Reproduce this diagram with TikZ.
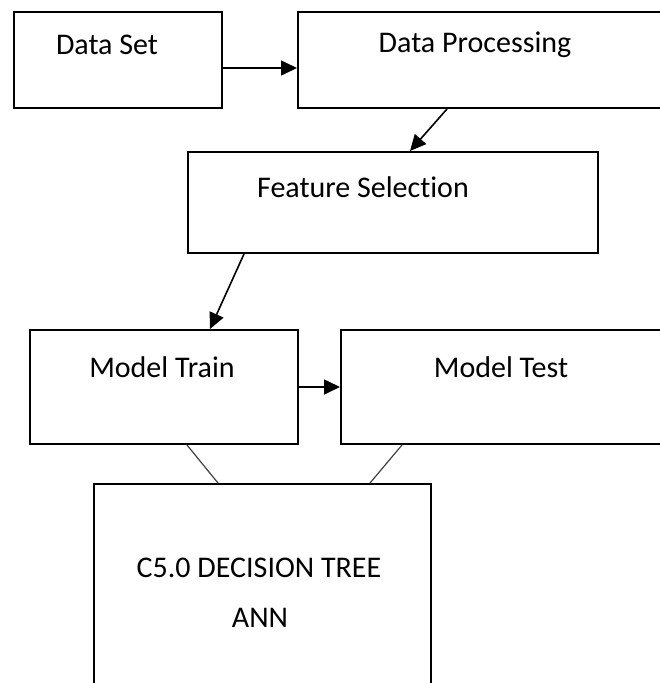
\documentclass[tikz,border=0pt]{standalone}
\usepackage{fontspec}
\setmainfont[Ligatures=NoCommon]{Carlito}
\usetikzlibrary{arrows.meta}
\tikzset{
	box/.style={draw, line width=2pt, rectangle, anchor=north west, inner sep=0pt},
	txt/.style={font=\fontsize{30}{36}\selectfont, inner sep=0pt},
	arr/.style={-{Triangle[length=16pt,width=15pt]}, line width=1.6pt},
	link/.style={line width=1.2pt, black!75}
}
\begin{document}
\begin{tikzpicture}[x=1pt, y=-1pt]
	\useasboundingbox (0,0) rectangle (660,683);
	% boxes
	\node[box, minimum width=208pt, minimum height=96pt] (ds) at (13,11) {};
	\node[box, minimum width=400pt, minimum height=96pt] (dp) at (297,11) {};
	\node[box, minimum width=410pt, minimum height=101pt] (fs) at (187,151) {};
	\node[box, minimum width=268pt, minimum height=114pt] (mt) at (29,329) {};
	\node[box, minimum width=400pt, minimum height=114pt] (mtest) at (340,329) {};
	\node[box, minimum width=337pt, minimum height=300pt] (c5) at (93,483) {};

	% texts
	\node[txt] (dstxt) at (107,45) {Data Set};
	\node[txt] (dptxt) at (475,45) {Data Processing};
	\node[txt] (fstxt) at (363,187) {Feature Selection};
	\node[txt] (mttxt) at (162,367) {Model Train};
	\node[txt] (mtesttxt) at (501,367) {Model Test};
	\node[txt] (c5txt) at (259,568) {C5.0 DECISION TREE};
	\node[txt] (anntxt) at (260,618) {ANN};

	% connectors
	\draw[arr] ([yshift=-8pt]ds.east) -- ([yshift=-8pt]dp.west);
	\draw[arr] ([xshift=150pt]dp.south west) -- ([xshift=223pt]fs.north west);
	\draw[arr] ([xshift=57pt]fs.south west) -- ([xshift=181pt]mt.north west);
	\draw[arr] (mt.east) -- (mtest.west);
	\draw[link] ([xshift=158pt]mt.south west) -- ([xshift=125pt]c5.north west);
	\draw[link] ([xshift=62pt]mtest.south west) -- ([xshift=277pt]c5.north west);
\end{tikzpicture}
\end{document}
